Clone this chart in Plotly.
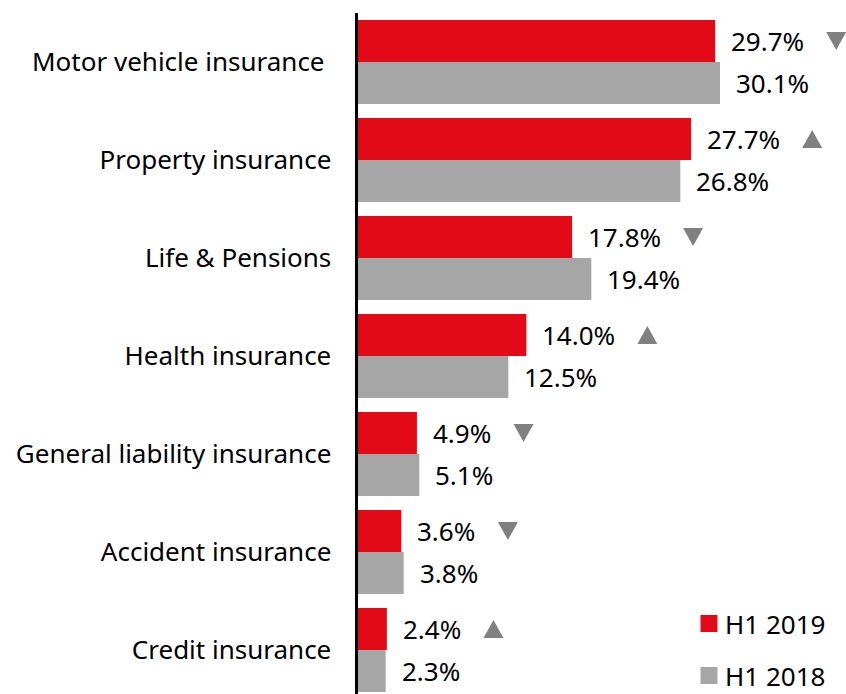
import plotly.graph_objects as go

categories = ["Motor vehicle insurance\u00a0", "Property insurance", "Life & Pensions",
              "Health insurance", "General liability insurance", "Accident insurance",
              "Credit insurance"]
h1_2019 = [29.7, 27.7, 17.8, 14.0, 4.9, 3.6, 2.4]
h1_2018 = [30.1, 26.8, 19.4, 12.5, 5.1, 3.8, 2.3]
series_names = ["H1 2019", "H1 2018"]

RED = "#E20A17"
GRAY = "#A6A6A6"
ARROW = "#808080"
FONT = "Noto Sans"
FS = 26

FIG_W, FIG_H = 846, 694
L = 358
T = 13
W = FIG_W - L
H = FIG_H - T
px_per_unit = (720 - 358) / 30.1
x_max = W / px_per_unit

idx = list(range(len(categories)))
BARGAP = 14 / 98
half = (1 - BARGAP) / 4  # centre offset of each bar within its group

fig = go.Figure()
fig.add_trace(go.Bar(y=idx, x=h1_2019, orientation="h", name=series_names[0],
                     marker=dict(color=RED, line=dict(width=0)), showlegend=False))
fig.add_trace(go.Bar(y=idx, x=h1_2018, orientation="h", name=series_names[1],
                     marker=dict(color=GRAY, line=dict(width=0)), showlegend=False))

y_lo = H / 98 - 0.5
annotations = []
shapes = []
for i, (a, b) in enumerate(zip(h1_2019, h1_2018)):
    la = f"{a:.1f}%"
    lb = f"{b:.1f}%"
    annotations.append(dict(x=a, y=i - half, xref="x", yref="y", text=la, showarrow=False,
                            xanchor="left", yanchor="middle", xshift=14,
                            font=dict(family=FONT, size=FS, color="#000000")))
    annotations.append(dict(x=b, y=i + half, xref="x", yref="y", text=lb, showarrow=False,
                            xanchor="left", yanchor="middle", xshift=14,
                            font=dict(family=FONT, size=FS, color="#000000")))
    # change indicator next to the 2019 label
    off = 16 + 14.4 * len(la) + 33
    if a >= b:
        path = f"M {off-10},-9 L {off+10},-9 L {off},9 Z"
    else:
        path = f"M {off-10},9 L {off+10},9 L {off},-9 Z"
    shapes.append(dict(type="path", xref="x", yref="y", xsizemode="pixel", ysizemode="pixel",
                       xanchor=a, yanchor=i - half, path=path,
                       fillcolor=ARROW, line=dict(width=0)))

# legend (custom, bottom right)
for k, (nm, col) in enumerate(zip(series_names, [RED, GRAY])):
    cy = 623.5 + 52 * k
    py = (FIG_H - cy) / H
    shapes.append(dict(type="rect", xref="paper", yref="paper", xsizemode="pixel", ysizemode="pixel",
                       xanchor=(709 - L) / W, yanchor=py, x0=-8.5, x1=8.5, y0=-8.5, y1=8.5,
                       fillcolor=col, line=dict(width=0)))
    annotations.append(dict(x=(723 - L) / W, y=py, xref="paper", yref="paper", text=nm,
                            showarrow=False, xanchor="left", yanchor="middle",
                            font=dict(family=FONT, size=FS, color="#000000")))

fig.update_layout(
    width=FIG_W, height=FIG_H,
    margin=dict(l=L, r=0, t=T, b=0, pad=0),
    paper_bgcolor="white", plot_bgcolor="white",
    barmode="group", bargap=BARGAP, bargroupgap=0,
    font=dict(family=FONT, size=FS, color="#000000"),
    xaxis=dict(range=[0, x_max], visible=False, fixedrange=True),
    yaxis=dict(range=[y_lo, -0.5], tickmode="array", tickvals=idx, ticktext=categories,
               showline=True, linecolor="#000000", linewidth=3.5, ticks="", showgrid=False,
               zeroline=False, ticklabelstandoff=18, fixedrange=True,
               tickfont=dict(family=FONT, size=FS, color="#000000")),
    annotations=annotations, shapes=shapes,
)
fig.write_html(
    "out.html",
    config={"displayModeBar": False, "staticPlot": True},
    post_script="document.body.style.margin='0';document.body.style.overflow='hidden';",
)
